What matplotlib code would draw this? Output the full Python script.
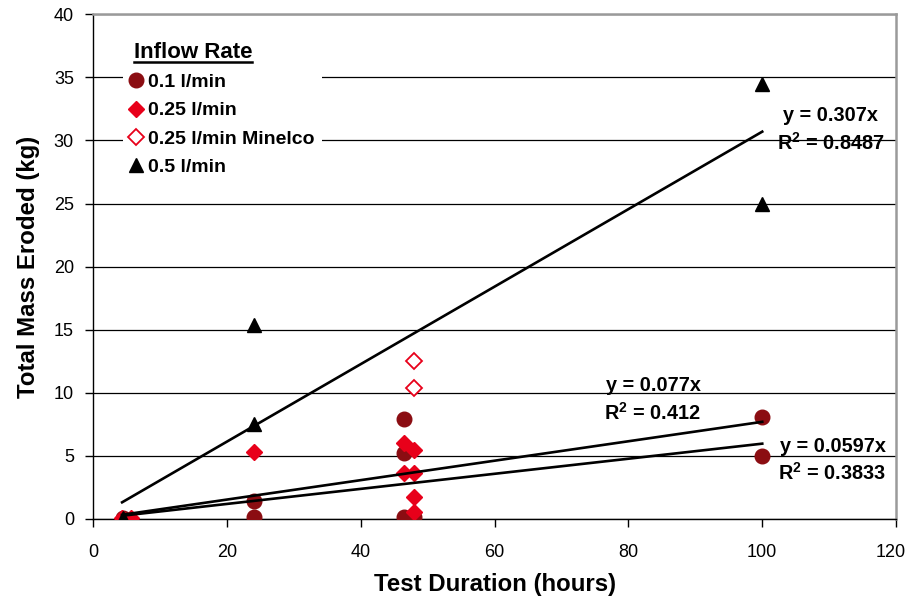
import matplotlib
matplotlib.use("Agg")
import matplotlib.pyplot as plt
from matplotlib.lines import Line2D
from matplotlib.transforms import ScaledTranslation
import numpy as np

plt.rcParams['font.family'] = ['Liberation Sans', 'DejaVu Sans']
plt.rcParams['mathtext.fontset'] = 'custom'
plt.rcParams['mathtext.rm'] = 'Liberation Sans:bold'
plt.rcParams['mathtext.it'] = 'Liberation Sans:bold'
plt.rcParams['mathtext.bf'] = 'Liberation Sans:bold'

# Test duration (hours) and total mass eroded (kg) by inflow rate
x_01 = [4.5, 24.0, 24.0, 46.5, 46.5, 46.5, 48.0, 100.0, 100.0]
y_01 = [0.05, 1.43, 0.18, 7.92, 5.23, 0.13, 0.13, 8.06, 5.02]

x_025 = [4.3, 5.6, 24.0, 46.5, 48.0, 46.5, 48.0, 48.0, 48.0]
y_025 = [0.05, 0.05, 5.33, 6.05, 5.47, 3.67, 3.67, 1.72, 0.58]

x_025m = [48.0, 48.0]
y_025m = [12.5, 10.4]

x_05 = [4.5, 24.0, 24.0, 100.0, 100.0]
y_05 = [0.1, 7.5, 15.4, 34.5, 24.96]

# Linear trendlines through the origin
slope_a, r2_a = 0.0597, 0.3833
slope_b, r2_b = 0.077, 0.412
slope_05, r2_05 = 0.307, 0.8487

labels = ['0.1 l/min', '0.25 l/min', '0.25 l/min Minelco', '0.5 l/min']

c_dark = '#8b0d12'
c_red = '#e8001a'

fig = plt.figure(figsize=(9.07, 5.99), dpi=100)
ax = fig.add_axes([0.1029, 0.1336, 0.885, 0.8425])

ax.set_xlim(0, 120)
ax.set_ylim(0, 40)
ax.set_xticks(np.arange(0, 121, 20))
ax.set_yticks(np.arange(0, 41, 5))
ax.yaxis.grid(True, color='black', linewidth=0.9)
ax.set_axisbelow(True)

for side in ('top', 'right'):
    ax.spines[side].set_color('#9a9a9a')
    ax.spines[side].set_linewidth(1.8)
for side in ('left', 'bottom'):
    ax.spines[side].set_color('black')
    ax.spines[side].set_linewidth(1.0)

ax.tick_params(axis='both', direction='out', length=6, width=1.0,
               labelsize=13)
ax.tick_params(axis='y', pad=8)
ax.tick_params(axis='x', pad=12)

ax.plot(x_01, y_01, 'o', color=c_dark, markersize=10.5, zorder=3)
ax.plot(x_025, y_025, 'D', color=c_red, markersize=8.5, zorder=4)
ax.plot(x_025m, y_025m, 'D', markerfacecolor='white', markeredgecolor=c_red,
        markeredgewidth=1.3, markersize=8.5, zorder=4)
ax.plot(x_05, y_05, '^', color='black', markersize=10.5, zorder=5)


def trend(x_lo, x_hi, slope):
    xx = np.array([x_lo, x_hi])
    ax.plot(xx, slope * xx, color='black', linewidth=1.9, zorder=6)


x_lo = min(x_01 + x_025 + x_05)
x_hi = max(x_01 + x_025 + x_05)
trend(x_lo, x_hi, slope_a)
trend(x_lo, x_hi, slope_b)
trend(x_lo, x_hi, slope_05)

eq_kw = dict(fontsize=14.3, fontweight='bold', ha='center', va='center', zorder=7)
ax.text(110.2, 32.0, f'y = {slope_05}x', **eq_kw)
ax.text(110.3, 29.8, f'R$^2$ = {r2_05}', **eq_kw)
ax.text(83.7, 10.6, f'y = {slope_b}x', **eq_kw)
ax.text(83.5, 8.4, f'R$^2$ = {r2_b}', **eq_kw)
ax.text(110.5, 5.78, f'y = {slope_a}x', **eq_kw)
ax.text(110.4, 3.65, f'R$^2$ = {r2_a}', **eq_kw)

handles = [
    Line2D([], [], linestyle='none', marker='o', color=c_dark, markersize=10.5),
    Line2D([], [], linestyle='none', marker='D', color=c_red, markersize=8.5),
    Line2D([], [], linestyle='none', marker='D', markerfacecolor='white',
           markeredgecolor=c_red, markeredgewidth=1.3, markersize=8.5),
    Line2D([], [], linestyle='none', marker='^', color='black', markersize=10.5),
]
leg = ax.legend(handles, labels, loc='upper left',
                bbox_to_anchor=(0.037, 0.959), frameon=True, facecolor='white',
                edgecolor='none', framealpha=1, fancybox=False,
                title='Inflow Rate', alignment='left',
                title_fontproperties={'weight': 'bold', 'size': 16},
                prop={'weight': 'bold', 'size': 14},
                handlelength=0.6, handletextpad=0.35, labelspacing=0.55,
                borderpad=0.35, borderaxespad=0)
leg.set_zorder(2.5)
leg.get_title().set_position((4, 0))

ax.set_xlabel('Test Duration (hours)', fontsize=17.3, fontweight='bold', labelpad=9)
ax.set_ylabel('Total Mass Eroded (kg)', fontsize=17.3, fontweight='bold', labelpad=10)

# keep the last x tick label inside the figure
last = ax.get_xticklabels()[-1]
last.set_transform(last.get_transform() + ScaledTranslation(-5 / 100, 0, fig.dpi_scale_trans))

# underline for the legend title
fig.canvas.draw()
tb = leg.get_title().get_window_extent(fig.canvas.get_renderer())
inv = fig.transFigure.inverted()
(x0, y0), (x1, _) = inv.transform([[tb.x0, tb.y0], [tb.x1, tb.y0]])
fig.add_artist(Line2D([x0, x1], [y0 + 0.001, y0 + 0.001], color='black',
                      linewidth=1.8, transform=fig.transFigure))

fig.savefig('out.png', dpi=100)
